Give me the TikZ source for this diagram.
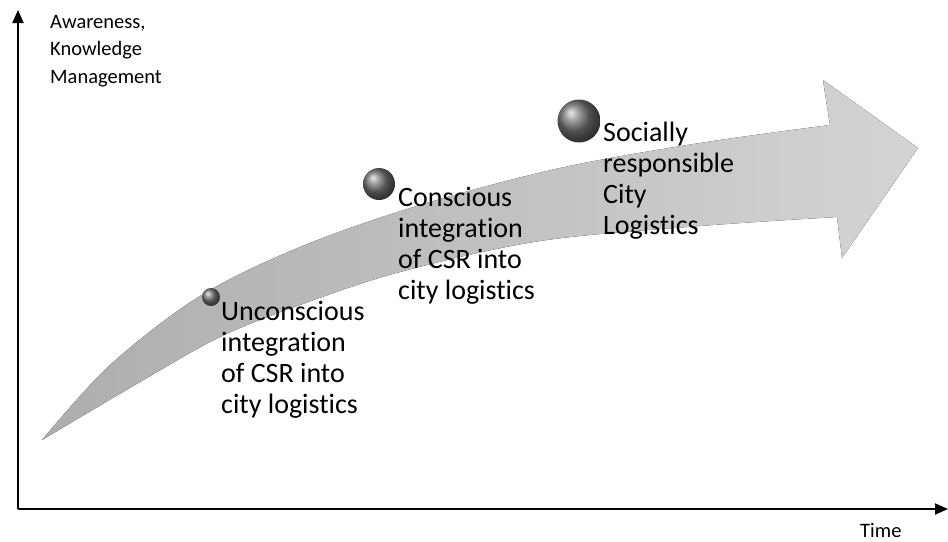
\documentclass[tikz,border=0pt]{standalone}
\usepackage{fontspec}
\setmainfont{Carlito}[Ligatures=NoCommon]
\usetikzlibrary{arrows.meta,shadings}
\begin{document}
\begin{tikzpicture}[x=1pt,y=-1pt,
  axis/.style={line width=2pt,-{Triangle[length=13pt,width=11pt]}},
  ball/.style={circle,inner sep=0pt,shading=ball,ball color=black!55},
  stage/.style={anchor=base west,align=left,inner sep=0pt,font=\fontsize{28}{31}\selectfont},
  axislabel/.style={anchor=base west,align=left,inner sep=0pt,font=\fontsize{20.5}{27.5}\selectfont}]
\useasboundingbox (0,0) rectangle (948,541);
\coordinate (origin) at (18,509);
\coordinate (ytop) at (18,10);
\coordinate (xend) at (948,509);
\draw[axis] (origin) -- (ytop);
\draw[axis] (origin) -- (xend);
\node[axislabel] (awareness) at (50,83) {Awareness,\\Knowledge\\Management};
\node[axislabel] (time) at (860,537) {Time};

\fill[left color=black!32,right color=black!17]
  (42,440) -- plot[smooth,tension=.55] coordinates {(42,440) (110,365) (200,296) (300,247) (420,205) (560,168) (700,143) (830,125)}
  -- (823,80) -- (918,148) -- (842,258) -- (837,217)
  -- plot[smooth,tension=.55] coordinates {(837,217) (700,226) (540,241) (400,272) (300,305) (220,337) (140,382) (42,440)}
  -- cycle;

\node[ball,minimum size=18pt] (ball1) at (211,297) {};
\node[ball,minimum size=32pt] (ball2) at (379,184) {};
\node[ball,minimum size=43pt] (ball3) at (579,121) {};

\node[stage] (unconscious) at (221,413) {Unconscious\\integration\\of CSR into\\city logistics};
\node[stage] (conscious) at (398,299) {Conscious\\integration\\of CSR into\\city logistics};
\node[stage] (social) at (603,234) {Socially\\responsible\\City\\Logistics};
\end{tikzpicture}
\end{document}
